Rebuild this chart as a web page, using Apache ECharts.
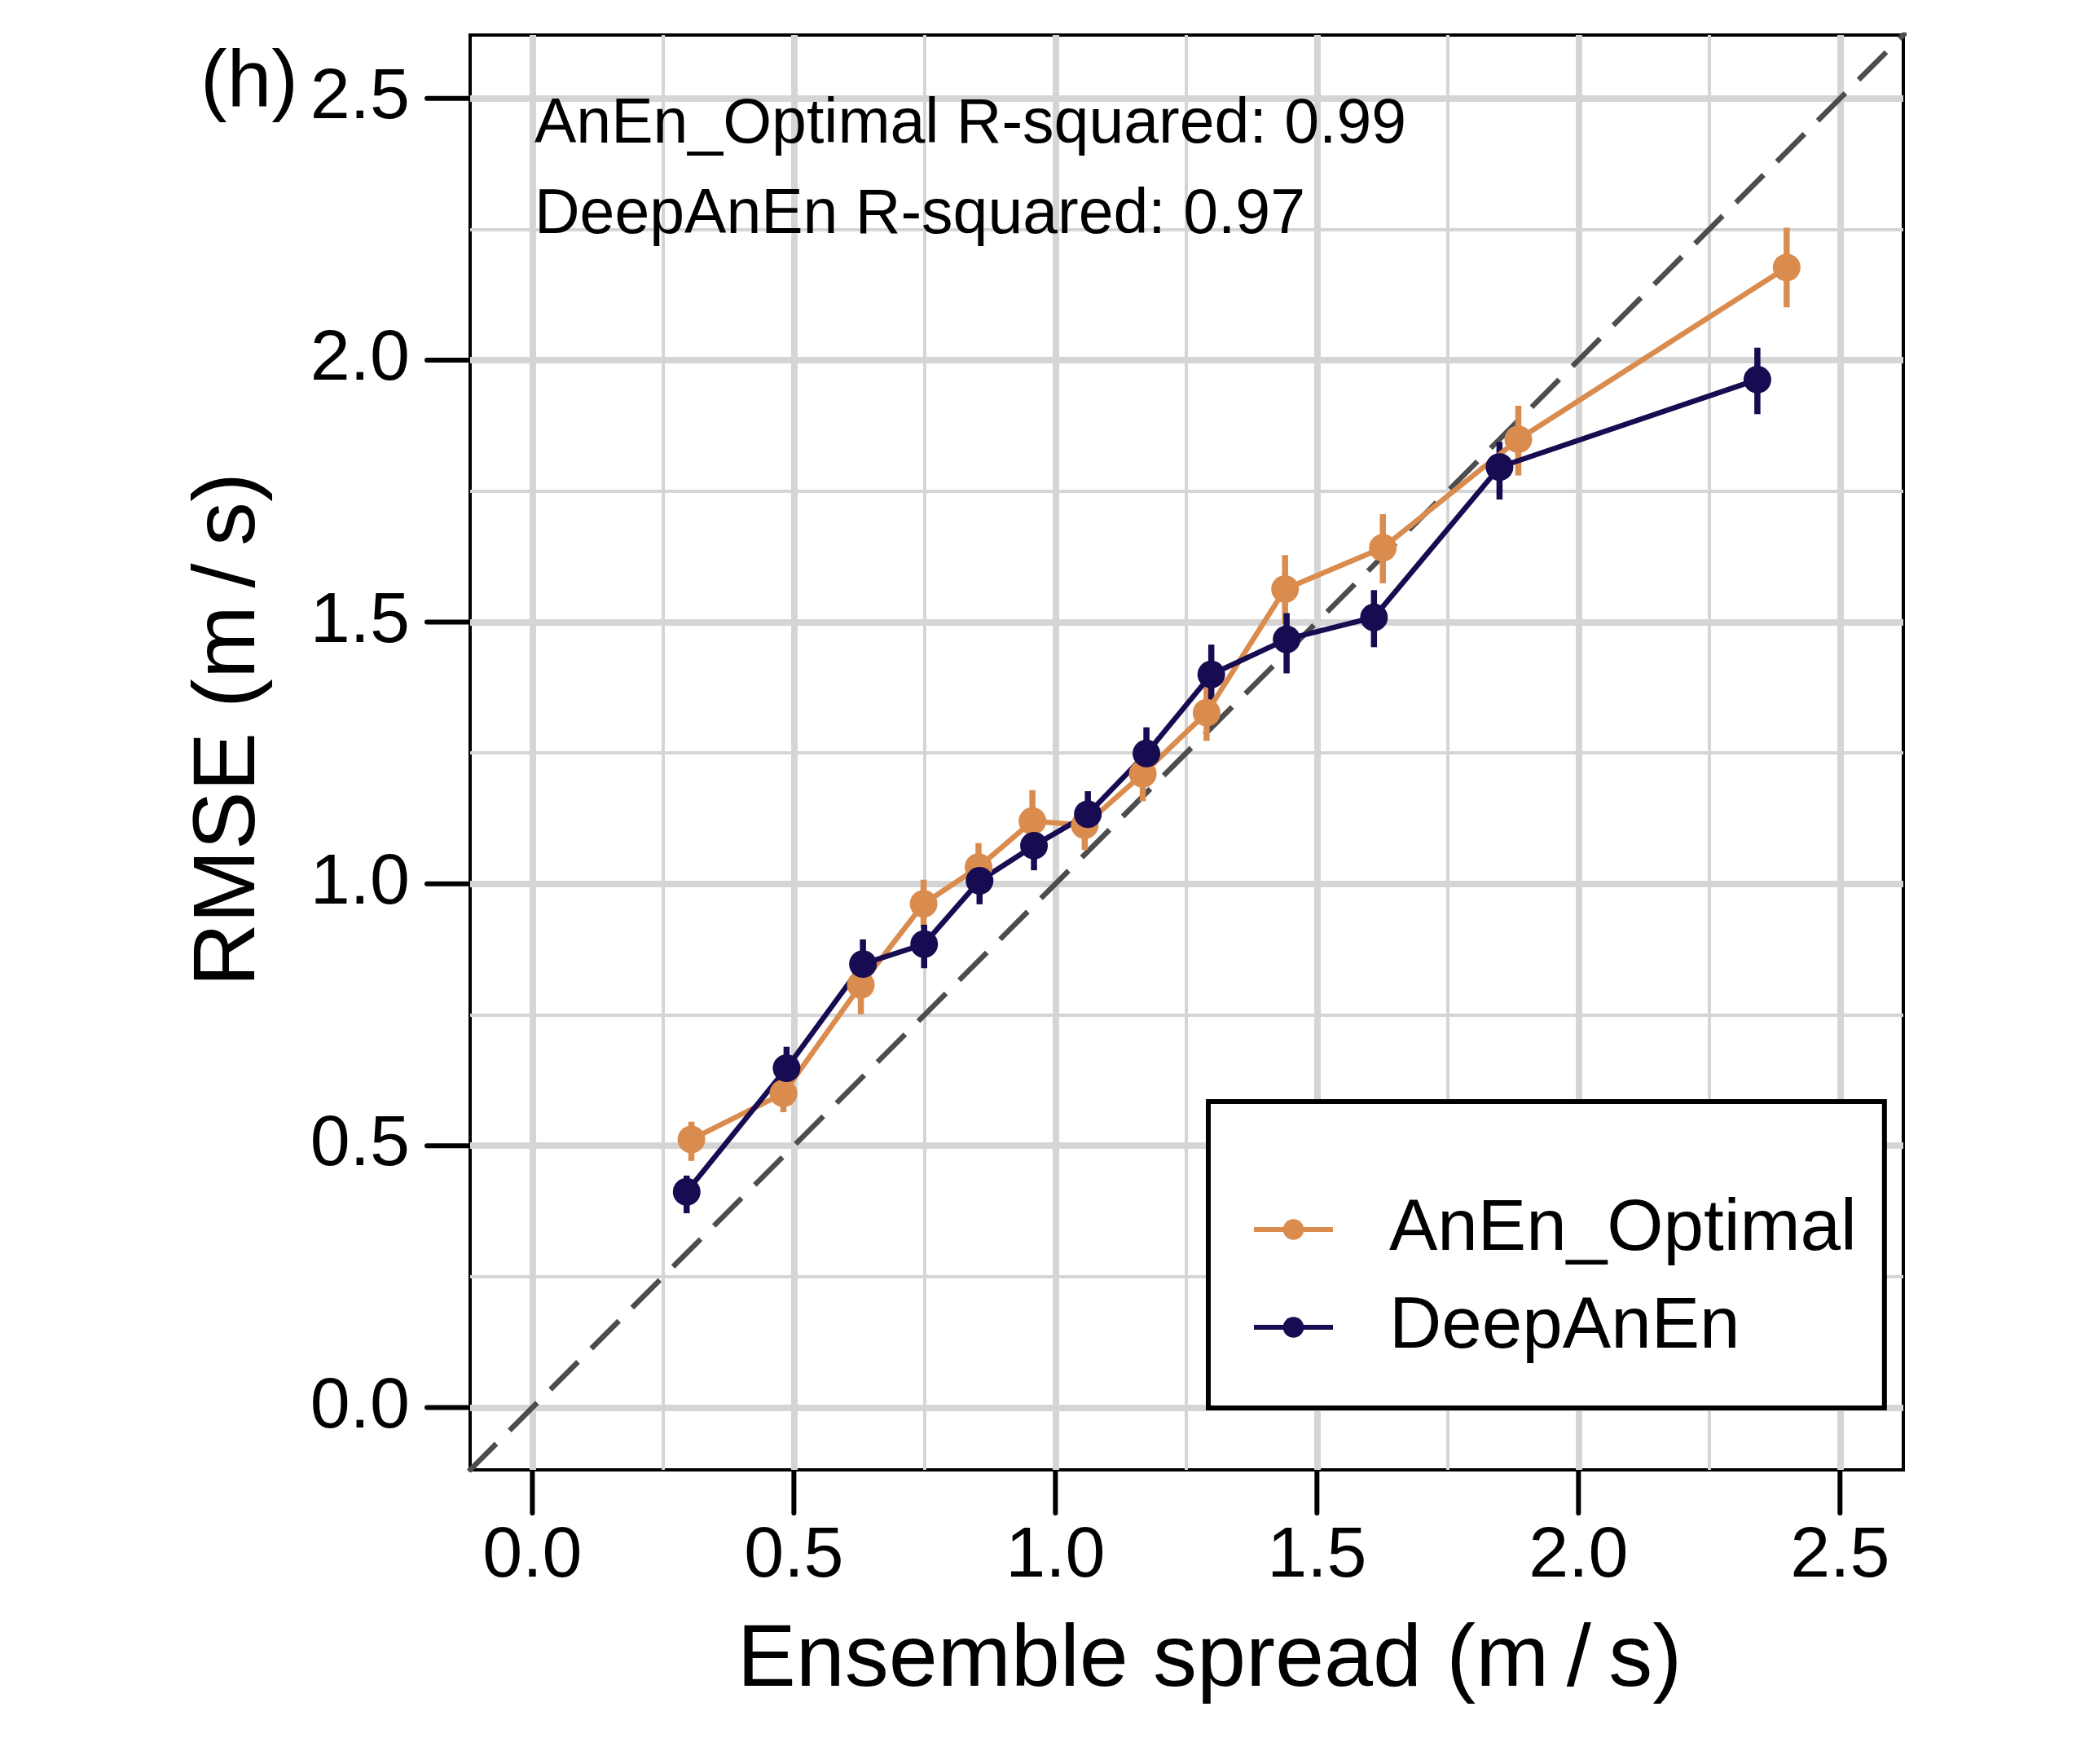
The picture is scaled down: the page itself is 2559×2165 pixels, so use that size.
<!DOCTYPE html>
<html>
<head>
<meta charset="utf-8">
<script src="https://cdn.jsdelivr.net/npm/echarts@6/dist/echarts.min.js"></script>
<style>
  html, body { margin: 0; padding: 0; background: #fff; }
  #chart-container { width: 2559px; height: 2165px; }
</style>
</head>
<body>
<div id="chart-container"></div>
<script>
// AnEn_Optimal: ensemble spread vs RMSE, with error bar ends
var anenSpread = [0.304, 0.480, 0.628, 0.748, 0.853, 0.956, 1.056, 1.167, 1.289, 1.439, 1.626, 1.885, 2.398];
var anenRmse   = [0.512, 0.600, 0.807, 0.962, 1.032, 1.120, 1.112, 1.210, 1.327, 1.563, 1.642, 1.849, 2.177];
var anenLow    = [0.471, 0.564, 0.751, 0.917, 0.984, 1.068, 1.065, 1.158, 1.273, 1.496, 1.574, 1.780, 2.101];
var anenHigh   = [0.546, 0.635, 0.862, 1.008, 1.078, 1.179, 1.150, 1.262, 1.380, 1.628, 1.706, 1.913, 2.253];

// DeepAnEn
var deepSpread = [0.295, 0.486, 0.632, 0.749, 0.855, 0.959, 1.062, 1.174, 1.298, 1.442, 1.609, 1.849, 2.342];
var deepRmse   = [0.412, 0.648, 0.847, 0.885, 1.006, 1.073, 1.133, 1.249, 1.400, 1.467, 1.509, 1.796, 1.963];
var deepLow    = [0.371, 0.608, 0.798, 0.839, 0.961, 1.026, 1.089, 1.200, 1.345, 1.402, 1.452, 1.734, 1.897];
var deepHigh   = [0.443, 0.689, 0.894, 0.922, 1.046, 1.118, 1.177, 1.299, 1.457, 1.517, 1.561, 1.844, 2.024];

var majorTicks = [0, 0.5, 1, 1.5, 2, 2.5];
var minorTicks = [0.25, 0.75, 1.25, 1.75, 2.25];
var tickLabels = ['0.0', '0.5', '1.0', '1.5', '2.0', '2.5'];
var axisRange = [-0.119, 2.621];
var diagonal = [[-0.2, -0.2], [2.8, 2.8]];

var seriesNames = ['AnEn_Optimal', 'DeepAnEn'];
var notes = ['AnEn_Optimal R-squared: 0.99', 'DeepAnEn R-squared: 0.97'];
var xTitle = 'Ensemble spread (m\u2009/\u2009s)';
var yTitle = 'RMSE (m\u2009/\u2009s)';

var ORANGE = '#DA8C4F';
var NAVY = '#170B52';
var FONT = 'Liberation Sans, Arial, sans-serif';
var TICK_LEN = 53;

function pairs(xs, ys) {
  return xs.map(function (x, i) { return [x, ys[i]]; });
}
function bars(xs, lo, hi) {
  return xs.map(function (x, i) { return [x, lo[i], hi[i]]; });
}

function errorSeries(name, data, color) {
  return {
    name: name,
    type: 'custom',
    data: data,
    encode: { x: 0, y: [1, 2] },
    silent: true,
    renderItem: function (params, api) {
      var a = api.coord([api.value(0), api.value(1)]);
      var b = api.coord([api.value(0), api.value(2)]);
      return {
        type: 'line',
        shape: { x1: a[0], y1: a[1], x2: b[0], y2: b[1] },
        style: { stroke: color, lineWidth: 7.5 }
      };
    }
  };
}

function lineSeries(name, data, color) {
  return {
    name: name,
    type: 'line',
    data: data,
    symbol: 'circle',
    symbolSize: 34,
    color: color,
    lineStyle: { color: color, width: 6.5 },
    itemStyle: { color: color, borderWidth: 0 }
  };
}

// outside tick marks on both axes, placed through the axes' own scales
var tickSeries = {
  name: 'ticks',
  type: 'custom',
  data: majorTicks.map(function (v) { return [v, v]; }),
  encode: { x: 0, y: 1 },
  silent: true,
  clip: false,
  z: 5,
  renderItem: function (params, api) {
    var v = api.value(0);
    var px = api.coord([v, axisRange[0]]);
    var py = api.coord([axisRange[0], v]);
    var st = { stroke: '#000', lineWidth: 6, lineCap: 'round' };
    return {
      type: 'group',
      children: [
        { type: 'line', shape: { x1: px[0], y1: px[1] + 3, x2: px[0], y2: px[1] + TICK_LEN }, style: st },
        { type: 'line', shape: { x1: py[0] - 3, y1: py[1], x2: py[0] - TICK_LEN, y2: py[1] }, style: st }
      ]
    };
  }
};

var gridLines = [];
majorTicks.forEach(function (v) {
  gridLines.push({ xAxis: v, lineStyle: { width: 8 } });
  gridLines.push({ yAxis: v, lineStyle: { width: 8 } });
});
minorTicks.forEach(function (v) {
  gridLines.push({ xAxis: v, lineStyle: { width: 4 } });
  gridLines.push({ yAxis: v, lineStyle: { width: 4 } });
});

function valueAxis(name, nameGap, labelMargin) {
  return {
    type: 'value',
    min: axisRange[0],
    max: axisRange[1],
    name: name,
    nameLocation: 'middle',
    nameGap: nameGap,
    nameTextStyle: { fontFamily: FONT, fontSize: 108, color: '#000', padding: [0, 0, 0, 56] },
    axisLine: { show: false },
    splitLine: { show: false },
    axisTick: { show: false },
    axisLabel: {
      show: true, margin: labelMargin, customValues: majorTicks,
      fontFamily: FONT, fontSize: 88, color: '#000',
      formatter: function (v) {
        var i = majorTicks.indexOf(v);
        return i >= 0 ? tickLabels[i] : '';
      }
    }
  };
}

var dom = document.getElementById('chart-container');
var myChart = echarts.init(dom, null, { renderer: 'canvas' });

var option = {
  animation: false,
  backgroundColor: '#fff',
  grid: {
    left: 577, right: 223, top: 43, bottom: 361,
    show: true, borderColor: '#000', borderWidth: 4, backgroundColor: 'transparent'
  },
  xAxis: valueAxis(xTitle, 181, 63),
  yAxis: valueAxis(yTitle, 241, 74),
  legend: {
    z: 20,
    data: [
      { name: seriesNames[0], itemStyle: { color: ORANGE }, lineStyle: { color: ORANGE, width: 6, type: 'solid' } },
      { name: seriesNames[1], itemStyle: { color: NAVY }, lineStyle: { color: NAVY, width: 6, type: 'solid' } }
    ],
    orient: 'vertical',
    left: 1483, top: 1352,
    borderColor: '#000', borderWidth: 6,
    backgroundColor: '#fff',
    padding: [107, 34, 49, 53],
    itemWidth: 97, itemHeight: 32, itemGap: 20,
    textStyle: { fontFamily: FONT, fontSize: 89, color: '#000', lineHeight: 100, padding: [0, 0, 0, 64] }
  },
  graphic: [
    { type: 'text', left: 246, top: 54, z: 10,
      style: { text: '(h)', font: '98px ' + FONT, fill: '#000' } },
    { type: 'text', left: 656, top: 115, z: 10,
      style: { text: notes[0], font: '77px ' + FONT, fill: '#000' } },
    { type: 'text', left: 656, top: 226, z: 10,
      style: { text: notes[1], font: '77px ' + FONT, fill: '#000' } }
  ],
  series: [
    {
      name: 'gridlines',
      type: 'line',
      data: [],
      z: 0,
      markLine: {
        z: 0,
        silent: true,
        symbol: ['none', 'none'],
        label: { show: false },
        lineStyle: { color: '#d5d5d5', type: 'solid' },
        data: gridLines
      }
    },
    {
      name: 'identity',
      type: 'line',
      data: diagonal,
      z: 1,
      symbol: 'none',
      silent: true,
      lineStyle: { color: '#4d4d4d', width: 6.5, type: [48, 23] }
    },
    tickSeries,
    errorSeries('AnEn_Optimal error', bars(anenSpread, anenLow, anenHigh), ORANGE),
    lineSeries(seriesNames[0], pairs(anenSpread, anenRmse), ORANGE),
    errorSeries('DeepAnEn error', bars(deepSpread, deepLow, deepHigh), NAVY),
    lineSeries(seriesNames[1], pairs(deepSpread, deepRmse), NAVY)
  ]
};

myChart.setOption(option);
</script>
</body>
</html>
